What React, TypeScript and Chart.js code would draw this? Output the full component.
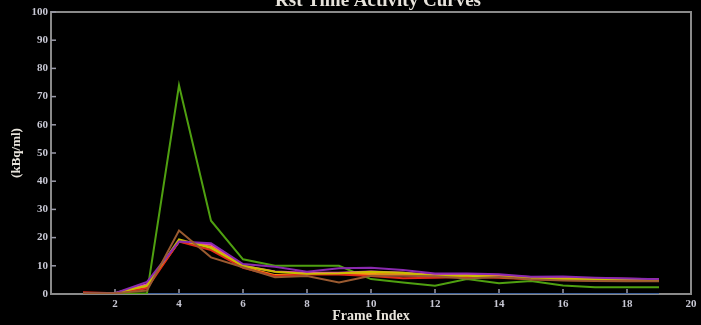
import React, { useEffect, useRef } from "react";
import { Chart, registerables } from "chart.js";

Chart.register(...registerables);

const frames = [1, 2, 3, 4, 5, 6, 7, 8, 9, 10, 11, 12, 13, 14, 15, 16, 17, 18, 19];
const blueVals = [0, 0, 0, 0, 0, 0, 0, 0, 0, 0, 0, 0, 0, 0, 0, 0, 0, 0, 0];
const greenVals = [0, 0, 0.3, 74, 26, 12.3, 10, 10, 10, 5.3, 4.1, 2.9, 5.3, 3.8, 4.6, 3, 2.4, 2.4, 2.4];
const brownVals = [0.3, 0.3, 1.2, 22.5, 13, 9.5, 5.9, 6.4, 4.1, 6.5, 6.5, 6.3, 5.5, 6, 5.2, 4.8, 4.6, 4.5, 4.5];
const yellowVals = [0.3, 0.3, 3, 19.4, 16.3, 10, 7.9, 7.2, 7.4, 7.9, 7.5, 6.5, 6.5, 6, 5.5, 5.2, 5.2, 5.2, 5];
const orangeVals = [0.3, 0.3, 2.6, 18.6, 16.8, 9.7, 6.7, 7.1, 7.1, 7.1, 7, 6.3, 6.5, 6.3, 5.5, 5.6, 5.2, 5.2, 4.9];
const redVals = [0.6, 0.3, 2, 18.6, 15.6, 9.3, 6.4, 7, 6.9, 6.4, 5.6, 5.8, 6, 5.8, 5.2, 5, 4.8, 4.7, 4.7];
const pinkVals = [0.3, 0.3, 3.5, 18.6, 17.5, 10, 8, 7.5, 7.5, 8, 7.5, 6.8, 6.8, 6.5, 6, 5.8, 5.6, 5.4, 5.2];
const purpleVals = [0.3, 0.3, 4.3, 18.6, 18, 10.6, 9.7, 7.9, 9.1, 9.3, 8.5, 7.3, 7.3, 7, 6.1, 6.2, 5.8, 5.5, 5.2];

const titleText = "Rst Time Activity Curves";
const xTitle = "Frame Index";
const yTitle = "(kBq/ml)";

const series = [
  { name: "brown", values: brownVals, color: "#9a5a30" },
  { name: "purple", values: purpleVals, color: "#8a2ab0" },
  { name: "yellow", values: yellowVals, color: "#c8c000" },
  { name: "red", values: redVals, color: "#e02a1a" },
  { name: "orange", values: orangeVals, color: "#f59a10" },
  { name: "pink", values: pinkVals, color: "#e040c0" },
  { name: "green", values: greenVals, color: "#4fa010" },
  { name: "blue", values: blueVals, color: "#3c5f98" },
];

const boxPlugin = {
  id: "boxPlugin",
  beforeDatasetsDraw(chart: any) {
    const { ctx, chartArea } = chart;
    const xs = chart.scales.x;
    const ys = chart.scales.y;
    ctx.save();
    ctx.strokeStyle = "#8a8a8a";
    ctx.lineWidth = 2;
    ctx.strokeRect(chartArea.left, chartArea.top, chartArea.right - chartArea.left, chartArea.bottom - chartArea.top);
    ctx.strokeStyle = "#9a9aa8";
    ctx.lineWidth = 1.5;
    xs.ticks.forEach((t: any) => {
      const px = xs.getPixelForValue(t.value);
      if (t.value <= 0 || t.value >= 20) return;
      ctx.beginPath();
      ctx.moveTo(px, chartArea.bottom);
      ctx.lineTo(px, chartArea.bottom - 5);
      ctx.stroke();
    });
    ys.ticks.forEach((t: any) => {
      const py = ys.getPixelForValue(t.value);
      if (t.value <= 0) return;
      ctx.beginPath();
      ctx.moveTo(chartArea.left, py);
      ctx.lineTo(chartArea.left + 5, py);
      ctx.stroke();
    });
    ctx.restore();
  },
  afterDraw(chart: any) {
    const { ctx } = chart;
    ctx.save();
    ctx.fillStyle = "#e8e4dc";
    ctx.font = "bold 19px 'Liberation Serif', serif";
    ctx.textAlign = "center";
    ctx.textBaseline = "alphabetic";
    ctx.fillText(titleText, 378, 6);
    ctx.restore();
  },
};

export default function App() {
  const ref = useRef<HTMLCanvasElement | null>(null);
  useEffect(() => {
    document.body.style.margin = "0";
    document.body.style.background = "#000";
    const canvas = ref.current!;
    const chart = new Chart(canvas, {
      type: "line",
      data: {
        datasets: series.map((s) => ({
          label: s.name,
          data: frames.map((f, i) => ({ x: f, y: s.values[i] })),
          borderColor: s.color,
          backgroundColor: s.color,
          borderWidth: 2,
          pointRadius: 0,
          tension: 0,
          fill: false,
        })),
      },
      options: {
        responsive: false,
        animation: false,
        events: [],
        layout: { padding: { top: 12, right: 10, left: 0, bottom: 0 } },
        plugins: {
          legend: { display: false },
          tooltip: { enabled: false },
          title: { display: false },
        },
        scales: {
          x: {
            type: "linear",
            min: 0,
            max: 20,
            grid: { display: false, drawTicks: false },
            border: { display: false },
            ticks: {
              stepSize: 2,
              padding: 4,
              color: "#c8c8d4",
              font: { family: "'Liberation Serif', serif", size: 11, weight: "bold" },
              maxRotation: 0,
              callback: (v: any) => (v === 0 ? "" : String(v)),
            },
            title: {
              display: true,
              text: xTitle,
              color: "#e8e4dc",
              font: { family: "'Liberation Serif', serif", size: 14, weight: "bold" },
              padding: { top: 1, bottom: 0 },
            },
            afterFit: (s: any) => {
              s.height = 31;
            },
          },
          y: {
            min: 0,
            max: 100,
            grid: { display: false, drawTicks: false },
            border: { display: false },
            ticks: {
              stepSize: 10,
              padding: 3,
              color: "#c8c8d4",
              font: { family: "'Liberation Serif', serif", size: 11, weight: "bold" },
            },
            title: {
              display: true,
              text: yTitle,
              color: "#e8e4dc",
              font: { family: "'Liberation Serif', serif", size: 13, weight: "bold" },
              padding: { top: 9, bottom: 0 },
            },
            afterFit: (s: any) => {
              s.width = 51;
            },
          },
        },
      },
      plugins: [boxPlugin],
    } as any);
    return () => chart.destroy();
  }, []);
  return (
    <div style={{ position: "absolute", left: 0, top: 0, width: 701, height: 325, background: "#000" }}>
      <canvas ref={ref} width={701} height={325} style={{ display: "block", width: 701, height: 325 }} />
    </div>
  );
}
